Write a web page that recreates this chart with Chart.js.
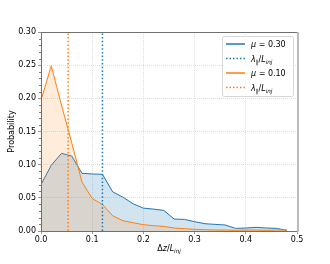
<!DOCTYPE html>
<html>
<head>
<meta charset="utf-8">
<script src="https://cdn.jsdelivr.net/npm/chart.js@4/dist/chart.umd.min.js"></script>
<style>
  html, body { margin: 0; padding: 0; background: #fff; }
  #wrap { width: 330px; height: 264px; }
</style>
</head>
<body>
<div id="wrap"><canvas id="c" width="330" height="264"></canvas></div>
<script>
const BINS = [0, 0.02, 0.04, 0.06, 0.08, 0.10, 0.12, 0.14, 0.16, 0.18, 0.20, 0.22, 0.24,
  0.26, 0.28, 0.30, 0.32, 0.34, 0.36, 0.38, 0.40, 0.42, 0.44, 0.46, 0.48];
const MU30 = [0.070, 0.099, 0.117, 0.113, 0.087, 0.086, 0.0855, 0.059, 0.051, 0.041, 0.0345, 0.033, 0.031,
  0.018, 0.0175, 0.014, 0.011, 0.010, 0.009, 0.004, 0.0045, 0.0055, 0.0045, 0.004, 0.001];
const MU10 = [0.197, 0.249, 0.190, 0.133, 0.074, 0.049, 0.040, 0.023, 0.0155, 0.0125, 0.0095, 0.008, 0.007,
  0.0045, 0.0035, 0.0025, 0.002, 0.0015, 0.0015, 0.001, 0.0015, 0.0015, 0.001, 0.0015, 0.0015];
const LAMBDA30 = 0.12;
const LAMBDA10 = 0.053;
const X_TICKS = [0, 0.1, 0.2, 0.3, 0.4, 0.5];
const Y_TICKS = [0, 0.05, 0.10, 0.15, 0.20, 0.25, 0.30];

const BLUE = '#1f77b4';
const ORANGE = '#ff7f0e';
const FONT = '"DejaVu Sans", sans-serif';

const pts = (xs, ys) => xs.map((x, i) => ({ x, y: ys[i] }));
const vline = x => [{ x, y: 0 }, { x, y: 0.3 }];

// draw mathtext-ish runs: [{t, it, sub}]
function drawRich(ctx, x, y, parts, size, align) {
  const fontOf = p => `${p.it ? 'italic ' : ''}${p.sub ? size * 0.7 : size}px ${FONT}`;
  let total = 0;
  for (const p of parts) { ctx.font = fontOf(p); total += ctx.measureText(p.t).width; }
  let cx = align === 'center' ? x - total / 2 : x;
  ctx.textAlign = 'left';
  ctx.textBaseline = 'alphabetic';
  for (const p of parts) {
    ctx.font = fontOf(p);
    ctx.fillText(p.t, cx, p.sub ? y + size * 0.25 : y);
    cx += ctx.measureText(p.t).width;
  }
}

const LAMBDA_TXT = [{ t: 'λ', it: true }, { t: '∥', sub: true }, { t: '/' }, { t: 'L', it: true }, { t: 'inj', it: true, sub: true }];
const LEGEND = [
  { color: BLUE, dash: [], parts: [{ t: 'μ', it: true }, { t: ' = 0.30' }] },
  { color: BLUE, dash: [1.5, 2], parts: LAMBDA_TXT },
  { color: ORANGE, dash: [], parts: [{ t: 'μ', it: true }, { t: ' = 0.10' }] },
  { color: ORANGE, dash: [1.5, 2], parts: LAMBDA_TXT },
];

const decor = {
  id: 'decor',
  afterDraw(chart) {
    const { ctx, chartArea: a } = chart;
    ctx.save();
    // frame
    ctx.strokeStyle = '#6f6f6f';
    ctx.lineWidth = 1;
    ctx.strokeRect(a.left + 0.5, a.top + 0.5, a.right - a.left, a.bottom - a.top);
    ctx.fillStyle = '#bbb';
    ctx.fillRect(a.right, a.top, 2, a.bottom - a.top + 1);

    // minor y ticks
    const ys = chart.scales.y;
    ctx.strokeStyle = '#7f7f7f';
    for (let i = 1; i < 30; i++) {
      if (i % 5 === 0) continue;
      const py = Math.round(ys.getPixelForValue(i / 100)) + 0.5;
      ctx.beginPath(); ctx.moveTo(a.left - 2, py); ctx.lineTo(a.left, py); ctx.stroke();
    }

    // legend
    const lx = 222, ly = 36, lw = 71, lh = 60;
    ctx.fillStyle = 'rgba(255,255,255,0.8)';
    ctx.strokeStyle = '#d8d8d8';
    ctx.beginPath();
    ctx.roundRect(lx + 0.5, ly + 0.5, lw, lh, 2);
    ctx.fill(); ctx.stroke();
    LEGEND.forEach((e, i) => {
      const cy = 44 + i * 14.5;
      ctx.strokeStyle = e.color;
      ctx.lineWidth = 1.5;
      ctx.setLineDash(e.dash);
      ctx.beginPath(); ctx.moveTo(226, cy); ctx.lineTo(245, cy); ctx.stroke();
      ctx.setLineDash([]);
      ctx.fillStyle = '#000';
      drawRich(ctx, 251, cy + 3, e.parts, 8);
    });

    // axis titles
    ctx.fillStyle = '#000';
    drawRich(ctx, (a.left + a.right) / 2, 251, [{ t: 'Δ' }, { t: 'z', it: true }, { t: '/' }, { t: 'L', it: true }, { t: 'inj', it: true, sub: true }], 8, 'center');
    ctx.translate(14, (a.top + a.bottom) / 2);
    ctx.rotate(-Math.PI / 2);
    ctx.font = `8px ${FONT}`;
    ctx.textAlign = 'center';
    ctx.fillText('Probability', 0, 0);
    ctx.restore();
  }
};

new Chart(document.getElementById('c'), {
  type: 'line',
  data: {
    datasets: [
      { data: pts(BINS, MU10), borderColor: ORANGE, backgroundColor: 'rgba(255,127,14,0.15)', fill: 'origin', borderWidth: 1, pointRadius: 0, order: 1 },
      { data: pts(BINS, MU30), borderColor: BLUE, backgroundColor: 'rgba(31,119,180,0.2)', fill: 'origin', borderWidth: 1, pointRadius: 0, order: 2 },
      { data: vline(LAMBDA10), borderColor: ORANGE, borderDash: [1.5, 2.2], borderWidth: 1.5, pointRadius: 0, fill: false, order: 0 },
      { data: vline(LAMBDA30), borderColor: BLUE, borderDash: [1.5, 2.2], borderWidth: 1.5, pointRadius: 0, fill: false, order: 0 },
    ],
  },
  options: {
    responsive: false,
    animation: false,
    layout: { padding: { top: 32, right: 33, left: 0, bottom: 0 } },
    plugins: { legend: { display: false }, tooltip: { enabled: false } },
    scales: {
      x: {
        type: 'linear', min: 0, max: 0.5,
        afterFit: s => { s.height = 33; },
        afterBuildTicks: s => { s.ticks = X_TICKS.map(v => ({ value: v })); },
        ticks: { color: '#000', font: { family: FONT, size: 8 }, padding: 1, maxRotation: 0, callback: v => v.toFixed(1) },
        grid: { color: '#d6d6d6', tickColor: '#7f7f7f', tickLength: 3, lineWidth: 0.8 },
        border: { display: false, dash: [1, 1] },
      },
      y: {
        min: 0, max: 0.3,
        afterFit: s => { s.width = 41; },
        afterBuildTicks: s => { s.ticks = Y_TICKS.map(v => ({ value: v })); },
        ticks: { color: '#000', font: { family: FONT, size: 8 }, padding: 2, callback: v => v.toFixed(2) },
        grid: { color: '#d6d6d6', tickColor: '#7f7f7f', tickLength: 3, lineWidth: 0.8 },
        border: { display: false, dash: [1, 1] },
      },
    },
  },
  plugins: [decor],
});
</script>
</body>
</html>
